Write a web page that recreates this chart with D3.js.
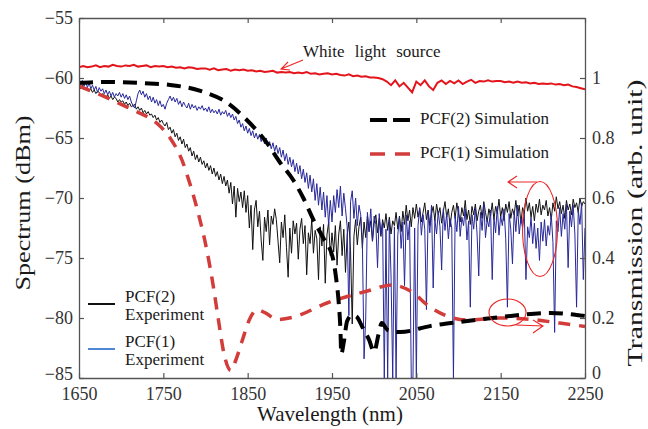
<!DOCTYPE html>
<html><head><meta charset="utf-8">
<script src="https://cdn.jsdelivr.net/npm/d3@7"></script>
<style>
html,body{margin:0;padding:0;background:#fff;}
svg{display:block;}
</style></head><body>
<svg id="chart" width="648" height="429"></svg>
<script>
// Axis ticks
const wavelengthTicks = [1650, 1750, 1850, 1950, 2050, 2150, 2250];
const spectrumTicks = [-85, -80, -75, -70, -65, -60, -55];
const transmissionTicks = [0, 0.2, 0.4, 0.6, 0.8, 1];

// Measured spectra (dBm), sampled every 2 nm from 1650 nm; each row covers 50 nm
const expStart = 1650, expStep = 2;
const pcf2Experiment = [
  -60.6,-60.9,-60.6,-61.0,-60.8,-60.9,-61.1,-60.9,-61.2,-61.0,-61.3,-61.1,-61.2,-61.5,-61.3,-61.4,-61.6,-61.4,-61.7,-61.5,-61.8,-61.6,-61.7,-62.0,-61.8,
  -62.0,-61.9,-62.2,-62.0,-62.3,-62.1,-62.4,-62.3,-62.2,-62.6,-62.4,-62.7,-62.5,-62.9,-62.7,-63.0,-62.8,-63.1,-63.0,-63.3,-63.1,-63.5,-63.3,-63.7,-63.5,
  -63.8,-64.0,-63.7,-64.3,-64.1,-64.6,-64.3,-64.9,-64.6,-65.2,-64.9,-65.5,-65.1,-65.8,-65.5,-66.1,-65.8,-66.5,-66.1,-66.8,-66.4,-67.0,-66.6,-67.2,-66.9,
  -67.5,-67.1,-67.7,-67.3,-68.0,-67.5,-68.2,-67.8,-68.5,-68.0,-68.8,-68.2,-69.0,-68.5,-69.6,-68.7,-70.5,-69.0,-71.6,-69.2,-70.3,-69.5,-70.8,-69.4,-71.2,
  -69.8,-72.5,-70.6,-74.3,-71.0,-70.2,-72.4,-71.1,-73.5,-75.2,-71.6,-72.8,-71.0,-73.9,-71.5,-72.2,-70.9,-71.8,-73.6,-75.4,-72.0,-73.3,-71.4,-74.1,-76.6,
  -72.5,-74.6,-71.9,-73.0,-72.1,-75.1,-72.6,-71.7,-73.8,-72.3,-76.4,-72.9,-73.8,-71.8,-74.6,-72.7,-73.4,-76.8,-72.4,-74.0,-72.2,-77.1,-73.1,-72.0,-74.8,
  -72.9,-74.5,-72.3,-75.6,-73.0,-71.9,-74.8,-72.6,-76.2,-73.1,-72.0,-74.4,-80.5,-73.2,-71.8,-73.9,-72.4,-71.6,-74.2,-72.0,-73.3,-71.5,-72.8,-71.9,-73.6,
  -72.1,-71.4,-72.9,-71.7,-73.2,-71.8,-72.5,-71.3,-72.7,-71.6,-73.0,-71.9,-72.3,-71.2,-72.6,-71.5,-72.8,-71.1,-72.2,-70.6,-71.9,-71.0,-72.4,-70.8,-71.7,
  -70.5,-71.6,-70.9,-72.0,-71.2,-70.4,-71.8,-71.0,-72.3,-71.3,-70.7,-71.9,-70.5,-71.4,-70.8,-72.1,-71.1,-70.3,-71.6,-70.9,-72.4,-71.2,-70.6,-71.7,-70.4,
  -71.3,-72.0,-70.8,-71.5,-70.2,-71.8,-71.0,-72.2,-70.7,-71.4,-70.5,-71.9,-71.1,-70.6,-71.7,-70.3,-71.2,-72.0,-70.9,-71.5,-70.4,-71.8,-70.7,-71.3,-70.1,
  -71.6,-70.8,-71.9,-70.5,-71.2,-70.3,-71.7,-70.9,-71.4,-70.2,-71.5,-70.6,-72.1,-70.8,-71.3,-70.0,-71.1,-70.4,-71.6,-70.7,-71.9,-70.5,-71.2,-70.1,-71.4,
  -70.6,-71.0,-70.2,-71.5,-70.8,-71.8,-70.4,-71.1,-69.9,-70.9,-70.3,-71.3,-70.6,-71.7,-70.2,-71.0,-70.5,-71.4,-70.1,-70.8,-70.4,-71.2,-70.0,-70.7,-70.3,
  -70.5
];
const pcf1Experiment = [
  -60.0,-60.5,-60.2,-60.7,-60.3,-60.8,-60.4,-60.9,-60.6,-61.0,-60.7,-61.2,-60.8,-61.1,-60.9,-61.3,-61.0,-61.4,-61.1,-61.5,-61.2,-61.6,-61.3,-61.5,-61.2,
  -61.6,-61.3,-61.7,-61.4,-61.8,-61.5,-62.0,-62.3,-62.5,-61.9,-61.3,-61.0,-61.4,-61.1,-61.6,-61.3,-61.8,-61.5,-62.0,-61.6,-62.1,-61.8,-62.3,-61.9,-62.4,
  -62.2,-62.6,-62.1,-61.8,-61.5,-61.9,-61.6,-62.0,-61.7,-62.2,-61.9,-62.4,-62.0,-62.3,-62.5,-62.1,-62.6,-62.2,-62.5,-62.3,-62.7,-62.4,-62.6,-62.3,-62.7,
  -62.5,-62.8,-62.4,-62.9,-62.6,-62.9,-62.7,-63.0,-62.6,-63.1,-62.8,-63.0,-62.7,-63.2,-62.9,-63.3,-63.0,-63.5,-63.2,-63.8,-63.5,-64.1,-63.8,-64.4,-64.0,
  -64.6,-64.2,-64.8,-64.4,-65.0,-64.6,-65.1,-64.7,-65.3,-64.9,-65.5,-65.0,-65.7,-65.3,-65.9,-65.4,-66.1,-65.6,-66.3,-65.8,-66.6,-66.0,-66.9,-66.3,-67.2,
  -66.6,-67.4,-66.8,-67.8,-67.1,-68.0,-67.3,-68.4,-67.6,-68.7,-67.9,-69.2,-68.1,-69.5,-68.4,-70.2,-68.8,-70.6,-69.1,-71.0,-69.5,-71.6,-69.8,-72.3,-70.2,
  -72.0,-69.8,-71.2,-69.3,-70.8,-69.0,-71.5,-69.6,-70.9,-72.4,-79.8,-70.3,-69.4,-71.7,-70.0,-72.3,-70.6,-71.4,-73.5,-83.4,-80.0,-71.2,-72.8,-70.9,-73.6,
  -71.5,-72.2,-75.8,-71.3,-73.0,-72.1,-85.0,-72.6,-85.0,-71.8,-76.5,-85.0,-72.4,-85.0,-73.1,-71.6,-74.2,-72.0,-77.3,-71.4,-73.5,-71.9,-85.0,-85.0,-72.5,
  -85.0,-72.3,-70.8,-73.1,-71.4,-72.6,-79.3,-71.2,-72.9,-70.6,-77.5,-71.8,-73.0,-71.1,-72.4,-76.0,-70.9,-72.7,-71.3,-73.4,-71.7,-72.5,-85.0,-71.5,-72.8,
  -70.7,-73.2,-71.6,-72.3,-70.9,-73.5,-71.9,-79.1,-71.4,-72.6,-70.8,-73.0,-76.5,-71.2,-72.7,-70.5,-73.3,-71.8,-72.4,-71.0,-76.8,-71.6,-72.9,-70.7,-73.1,
  -71.5,-72.3,-70.9,-73.4,-79.1,-71.3,-72.6,-75.5,-71.1,-72.8,-70.6,-73.0,-71.7,-72.5,-71.2,-76.8,-72.4,-73.3,-71.6,-73.8,-72.1,-74.2,-72.5,-75.2,-72.0,
  -73.6,-71.8,-74.0,-72.3,-73.1,-71.4,-73.7,-81.2,-71.9,-72.8,-70.8,-73.2,-71.3,-72.6,-70.5,-75.8,-71.1,-72.4,-70.6,-73.0,-79.1,-71.0,-72.2,-70.4,-76.8,
  -72.5
];

// White light source spectrum (dBm), every 5 nm from 1650 nm; each row covers 50 nm
const whiteStart = 1650, whiteStep = 5;
const whiteLight = [
  -59.1,-59.0,-59.1,-59.05,-58.95,-59.1,-59.0,-59.05,-58.9,-59.0,
  -59.05,-58.95,-59.0,-58.9,-59.05,-59.0,-58.95,-59.1,-59.0,-59.05,
  -59.0,-59.1,-59.05,-59.15,-59.1,-59.2,-59.1,-59.15,-59.25,-59.2,
  -59.2,-59.3,-59.2,-59.35,-59.3,-59.25,-59.4,-59.3,-59.35,-59.3,
  -59.4,-59.35,-59.45,-59.4,-59.5,-59.45,-59.4,-59.55,-59.5,-59.55,
  -59.5,-59.6,-59.55,-59.6,-59.5,-59.65,-59.6,-59.7,-59.65,-59.6,
  -59.7,-59.65,-59.75,-59.8,-59.7,-59.85,-59.8,-59.9,-59.85,-59.95,
  -59.95,-60.0,-60.1,-60.3,-60.6,-60.2,-60.7,-60.4,-60.8,-61.2,
  -60.3,-60.6,-60.2,-60.7,-61.0,-60.4,-60.2,-60.5,-60.25,-60.45,
  -60.2,-60.5,-60.3,-60.15,-60.4,-60.25,-60.3,-60.2,-60.3,-60.25,
  -60.25,-60.35,-60.3,-60.4,-60.3,-60.4,-60.35,-60.45,-60.4,-60.5,
  -60.45,-60.5,-60.45,-60.55,-60.5,-60.6,-60.55,-60.7,-60.75,-60.85,
  -60.95
];

// Simulated transmission (arb. unit)
const pcf2SimWavelength = [1650,1678,1726,1758,1794,1826,1849,1873,1888,1904,1916,1928,1939,1951,1955,1958,1960,1961,1964,1968,1974,1979,1986,1994,2000,2005,2009,2016,2031,2066,2102,2149,2209,2250];
const pcf2SimTransmission = [0.983,0.987,0.983,0.977,0.957,0.917,0.86,0.783,0.72,0.66,0.6,0.527,0.47,0.40,0.33,0.25,0.16,0.08,0.12,0.19,0.21,0.205,0.17,0.127,0.087,0.143,0.183,0.16,0.153,0.173,0.187,0.203,0.217,0.207];
const pcf1SimWavelength = [1650,1681,1707,1719,1742,1758,1772,1782,1792,1802,1809,1815,1822,1830,1836,1843,1853,1861,1871,1885,1904,1944,1992,2021,2043,2066,2093,2110,2149,2188,2220,2250];
const pcf1SimTransmission = [0.973,0.937,0.903,0.887,0.85,0.80,0.727,0.643,0.543,0.42,0.31,0.2,0.08,0.025,0.06,0.12,0.2,0.227,0.217,0.195,0.203,0.25,0.29,0.31,0.29,0.237,0.2,0.193,0.2,0.195,0.183,0.172];

const serif = "'Times New Roman', Times, Tinos, 'Liberation Serif', 'Nimbus Roman', 'DejaVu Serif', 'Noto Serif', FreeSerif, serif";
const svg = d3.select("#chart");
const plotLeft = 79, plotRight = 585, plotTop = 18, plotBottom = 378;

const x = d3.scaleLinear().domain([1650, 2250]).range([plotLeft, plotRight]);
const yL = d3.scaleLinear().domain([-85, -55]).range([plotBottom, plotTop]);
const yR = d3.scaleLinear().domain([0, 1.2]).range([plotBottom, plotTop]);

svg.append("defs").append("clipPath").attr("id", "plotClip")
  .append("rect").attr("x", plotLeft).attr("y", plotTop)
  .attr("width", plotRight - plotLeft).attr("height", plotBottom - plotTop);

const plot = svg.append("g").attr("clip-path", "url(#plotClip)");

const expLine = d3.line().x((d, i) => x(expStart + i * expStep)).y(d => yL(d));
const whiteLine = d3.line().x((d, i) => x(whiteStart + i * whiteStep)).y(d => yL(d));
const simLine = (wl) => d3.line().x((d, i) => x(wl[i])).y(d => yR(d)).curve(d3.curveMonotoneX);

plot.append("path").attr("d", whiteLine(whiteLight))
  .attr("fill", "none").attr("stroke", "#e4141b").attr("stroke-width", 2);
plot.append("path").attr("d", expLine(pcf2Experiment))
  .attr("fill", "none").attr("stroke", "#111").attr("stroke-width", 1);
plot.append("path").attr("d", expLine(pcf1Experiment))
  .attr("fill", "none").attr("stroke", "#28289a").attr("stroke-width", 1);
plot.append("path").attr("d", simLine(pcf1SimWavelength)(pcf1SimTransmission))
  .attr("fill", "none").attr("stroke", "#d23c3a").attr("stroke-width", 3.5).attr("stroke-dasharray", "12,9");
plot.append("path").attr("d", simLine(pcf2SimWavelength)(pcf2SimTransmission))
  .attr("fill", "none").attr("stroke", "#000").attr("stroke-width", 4).attr("stroke-dasharray", "14,8");

// Axes (ticks point inward)
const axisColor = "#555", labelColor = "#333";
function styleAxis(g) {
  g.attr("font-family", serif).attr("font-size", 18);
  g.selectAll(".domain").attr("stroke", axisColor).attr("stroke-width", 1.3);
  g.selectAll(".tick line").attr("stroke", axisColor).attr("stroke-width", 1.2);
  g.selectAll(".tick text").attr("fill", labelColor).style("font-family", serif).attr("font-size", 18);
}
svg.append("g").attr("transform", `translate(0,${plotBottom})`)
  .call(d3.axisBottom(x).tickValues(wavelengthTicks).tickSize(-5).tickSizeOuter(0).tickPadding(9).tickFormat(d3.format("d")))
  .call(styleAxis);
svg.append("g").attr("transform", `translate(0,${plotTop})`)
  .call(d3.axisTop(x).tickValues(wavelengthTicks).tickSize(-5).tickSizeOuter(0).tickFormat(""))
  .call(styleAxis);
const leftAxis = svg.append("g").attr("transform", `translate(${plotLeft},0)`)
  .call(d3.axisLeft(yL).tickValues(spectrumTicks).tickSize(-5).tickSizeOuter(0).tickPadding(6).tickFormat(d3.format("d")))
  .call(styleAxis);
const rightAxis = svg.append("g").attr("transform", `translate(${plotRight},0)`)
  .call(d3.axisRight(yR).tickValues(transmissionTicks).tickSize(-5).tickSizeOuter(0).tickPadding(7)
    .tickFormat(d => (d === 0 || d === 1) ? String(d) : d.toFixed(1)))
  .call(styleAxis);
// lift the bottom-most side labels so they clear the wavelength labels
rightAxis.selectAll(".tick text").filter(d => d === 0).attr("dy", "0.05em");
leftAxis.selectAll(".tick text").filter(d => d === -85).attr("dy", "0.1em");

// Axis titles
function title(sel) { return sel.style("font-family", serif).attr("fill", "#1a1a1a"); }
title(svg.append("text")).attr("x", 330).attr("y", 421).attr("text-anchor", "middle")
  .attr("font-size", 21).text("Wavelength (nm)");
title(svg.append("text")).attr("transform", "translate(30,203) rotate(-90)").attr("text-anchor", "middle")
  .attr("font-size", 20).attr("textLength", 175).attr("lengthAdjust", "spacingAndGlyphs").text("Spectrum (dBm)");
title(svg.append("text")).attr("transform", "translate(642,223) rotate(-90)").attr("text-anchor", "middle")
  .attr("font-size", 20).attr("textLength", 287).attr("lengthAdjust", "spacingAndGlyphs").text("Transmission (arb. unit)");

// Annotations
const red = "#ec2626";
const ann = svg.append("g").attr("fill", "none").attr("stroke", red).attr("stroke-width", 1.1);
title(svg.append("text")).attr("x", 303).attr("y", 57)
  .attr("font-size", 17).attr("word-spacing", 6).text("White light source");
ann.append("path").attr("d", "M303,60 L281,69 M288,62 L281,69 L290,70");

ann.append("ellipse").attr("cx", 540).attr("cy", 229).attr("rx", 17.5).attr("ry", 47.5);
ann.append("path").attr("d", "M537,182 L508,182 M517,176 L508,182 L517,188");
ann.append("ellipse").attr("cx", 507.5).attr("cy", 312.5).attr("rx", 18.5).attr("ry", 13.5);
ann.append("path").attr("d", "M516,325 L543,326 M533,320 L543,326 L533,333");

// Legends
const leg = svg.append("g");
leg.append("line").attr("x1", 370).attr("x2", 410).attr("y1", 120).attr("y2", 120)
  .attr("stroke", "#000").attr("stroke-width", 4).attr("stroke-dasharray", "17,6");
title(leg.append("text")).attr("x", 420).attr("y", 124).attr("font-size", 17).text("PCF(2) Simulation");
leg.append("line").attr("x1", 370).attr("x2", 410).attr("y1", 154).attr("y2", 154)
  .attr("stroke", "#d23c3a").attr("stroke-width", 3.5).attr("stroke-dasharray", "15,10");
title(leg.append("text")).attr("x", 420).attr("y", 158).attr("font-size", 17).text("PCF(1) Simulation");

leg.append("line").attr("x1", 88).attr("x2", 115).attr("y1", 304).attr("y2", 304)
  .attr("stroke", "#111").attr("stroke-width", 2);
title(leg.append("text")).attr("x", 125).attr("y", 302).attr("font-size", 17).text("PCF(2)");
title(leg.append("text")).attr("x", 125).attr("y", 320).attr("font-size", 17).text("Experiment");
leg.append("line").attr("x1", 88).attr("x2", 115).attr("y1", 349).attr("y2", 349)
  .attr("stroke", "#4f86d6").attr("stroke-width", 2);
title(leg.append("text")).attr("x", 125).attr("y", 347).attr("font-size", 17).text("PCF(1)");
title(leg.append("text")).attr("x", 125).attr("y", 365).attr("font-size", 17).text("Experiment");
</script>
</body></html>
